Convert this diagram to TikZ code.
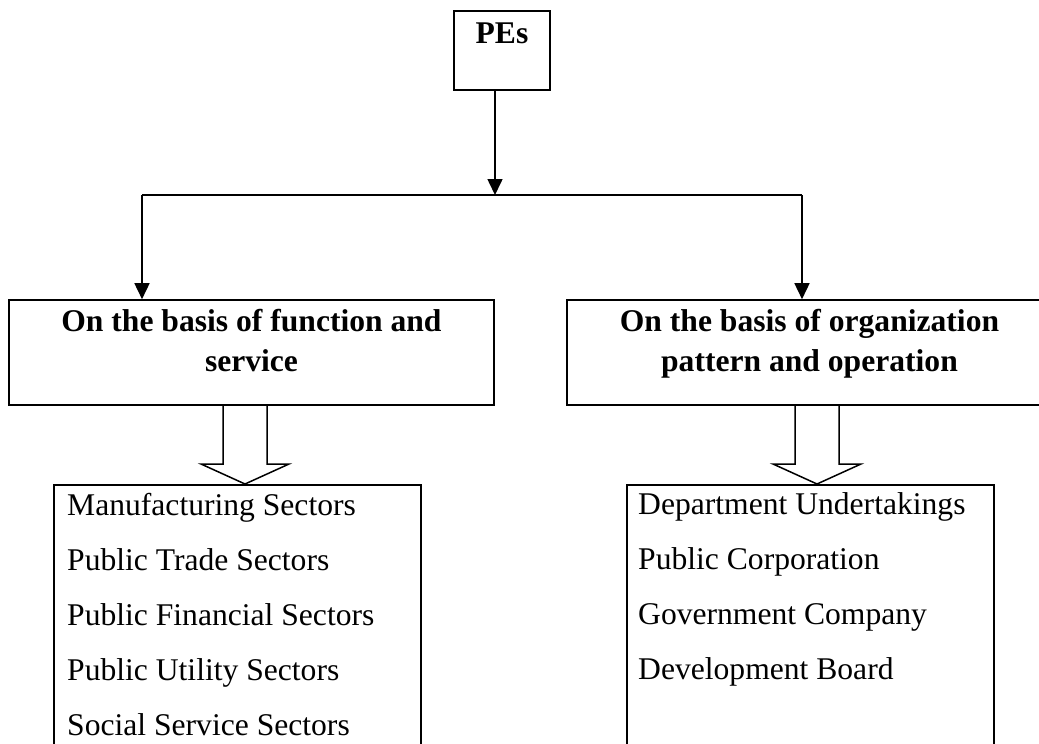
\documentclass[tikz,border=0pt]{standalone}
\usepackage{fontspec}
\setmainfont{Liberation Serif}
\usetikzlibrary{arrows.meta,calc}
\begin{document}
\begin{tikzpicture}[x=1pt,y=-1pt,
  box/.style={draw, line width=1.6pt, inner sep=0pt},
  head/.style={font=\fontsize{31.6}{40}\selectfont\bfseries, inner sep=0pt},
  item/.style={font=\fontsize{31.6}{40}\selectfont, inner sep=0pt},
  link/.style={line width=1.6pt},
  arr/.style={link, -{Triangle[width=15pt,length=16pt]}},
  blockarrow/.style={draw, line width=1.5pt, line join=miter}]
\useasboundingbox (0,0) rectangle (1039,744);
\clip (0,0) rectangle (1039,744);

% root
\node[box, head, anchor=base, text height=32pt, text depth=47pt,
      minimum width=96pt] (pes) at (502,43) {PEs};

% the two classifications
\node[box, minimum width=485pt, minimum height=105pt] (fn) at (251.5,352.5) {};
\node[box, minimum width=485pt, minimum height=105pt] (org) at (809.5,352.5) {};
\node[head, anchor=base] (fn1) at ($(fn.north)+(0,32)$) {On the basis of function and};
\node[head, anchor=base] (fn2) at ($(fn.north)+(0,72)$) {service};
\node[head, anchor=base] (org1) at ($(org.north)+(0,32)$) {On the basis of organization};
\node[head, anchor=base] (org2) at ($(org.north)+(0,72)$) {pattern and operation};

% lists of types
\node[box, anchor=north west, minimum width=367pt, minimum height=300pt] (fs) at (53,484) {};
\node[box, anchor=north west, minimum width=367pt, minimum height=300pt] (os) at (626,484) {};

\foreach \t [count=\i] in {Manufacturing Sectors, Public Trade Sectors,
    Public Financial Sectors, Public Utility Sectors, Social Service Sectors}
  \node[item, anchor=base west] (fs\i) at ($(fs.north west)+(14,31+55*\i-55)$) {\t};

\foreach \t [count=\i] in {Department Undertakings, Public Corporation,
    Government Company, Development Board}
  \node[item, anchor=base west] (os\i) at ($(os.north west)+(12,30+55*\i-55)$) {\t};

% connectors from the root
\coordinate (bar) at (495,195);
\coordinate (barL) at (142,195);
\coordinate (barR) at (802,195);
\draw[link] (barL) -- (barR);
\draw[arr] (pes.south -| bar) -- (bar);
\draw[arr] (barL) -- (barL |- fn.north);
\draw[arr] (barR) -- (barR |- org.north);

% hollow block arrows down to the lists
\coordinate (ltip) at (245,0 |- fs.north);
\coordinate (rtip) at (817,0 |- os.north);
\foreach \tip in {ltip, rtip}
  \draw[blockarrow] (\tip) ++(-22,-79) -- ++(0,59) -- ++(-22,0) -- (\tip)
    -- ++(44,-20) -- ++(-22,0) -- ++(0,-59);
\end{tikzpicture}
\end{document}
